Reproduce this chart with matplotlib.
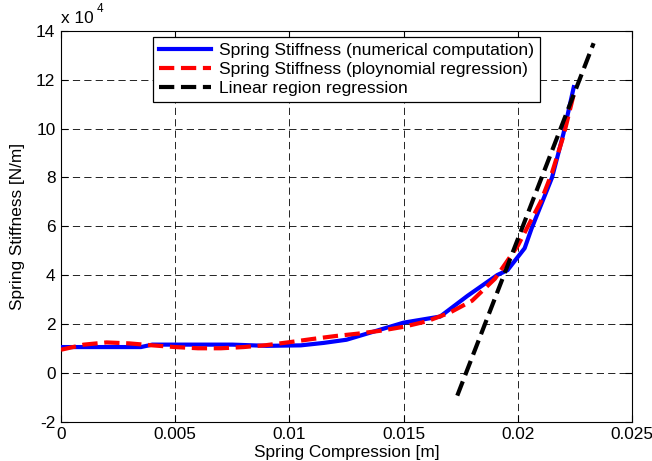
import matplotlib
matplotlib.use("Agg")
import matplotlib.pyplot as plt
from matplotlib.ticker import FuncFormatter

plt.rcParams['font.family'] = ['Liberation Sans', 'DejaVu Sans']
plt.rcParams['lines.scale_dashes'] = False

# Numerical computation (x in m, stiffness in N/m)
num_x = [0, 0.0035, 0.0040, 0.0075, 0.0090, 0.0105, 0.0115, 0.0125, 0.0150,
         0.0166, 0.0178, 0.0191, 0.01955, 0.0203, 0.0206, 0.0215, 0.0220, 0.02245]
num_y = [1.05e4, 1.05e4, 1.15e4, 1.15e4, 1.10e4, 1.12e4, 1.22e4, 1.35e4, 2.05e4,
         2.30e4, 3.15e4, 4.00e4, 4.20e4, 5.10e4, 5.90e4, 8.00e4, 9.80e4, 11.70e4]

# Polynomial regression
poly_x = [0, 0.001, 0.002, 0.003, 0.004, 0.005, 0.006, 0.007, 0.008, 0.009,
          0.010, 0.011, 0.012, 0.013, 0.014, 0.015, 0.016, 0.017, 0.018, 0.019,
          0.020, 0.021, 0.0215, 0.022, 0.0225]
poly_y = [0.94e4, 1.15e4, 1.24e4, 1.20e4, 1.12e4, 1.05e4, 1.00e4, 1.00e4, 1.05e4, 1.13e4,
          1.25e4, 1.38e4, 1.50e4, 1.60e4, 1.72e4, 1.88e4, 2.10e4, 2.45e4, 2.95e4, 3.85e4,
          5.20e4, 7.00e4, 8.20e4, 9.70e4, 11.60e4]

# Linear region regression
lin_x = [0.01735, 0.02332]
lin_y = [-0.94e4, 13.5e4]

x_ticks = [0, 0.005, 0.01, 0.015, 0.02, 0.025]
x_tick_labels = ['0', '0.005', '0.01', '0.015', '0.02', '0.025']
y_ticks = [-2e4, 0, 2e4, 4e4, 6e4, 8e4, 10e4, 12e4, 14e4]

fig = plt.figure(figsize=(6.52, 4.61), dpi=100)
ax = fig.add_axes([61/652, 1 - 421.5/461, 571/652, 390.5/461])

ax.plot(num_x, num_y, color='#0000ff', lw=3, solid_joinstyle='miter',
        label='Spring Stiffness (numerical computation)', zorder=3)
ax.plot(poly_x, poly_y, color='#ff0000', lw=3, linestyle=(0, (11, 4.8)),
        label='Spring Stiffness (ploynomial regression)', zorder=4)
ax.plot(lin_x, lin_y, color='black', lw=3, linestyle=(0, (11, 4.8)),
        label='Linear region regression', zorder=5)

ax.set_xlim(0, 0.025)
ax.set_ylim(-2e4, 14e4)
ax.set_xticks(x_ticks)
ax.set_xticklabels(x_tick_labels)
ax.set_yticks(y_ticks)
ax.yaxis.set_major_formatter(FuncFormatter(lambda v, p: '%g' % (v / 1e4)))

ax.grid(True, color='black', lw=0.6, linestyle=(0, (5.2, 3.0)))
ax.tick_params(direction='in', length=5, width=0.8, top=True, right=True,
               labelsize=12.4, colors='black', pad=4)
for s in ax.spines.values():
    s.set_linewidth(0.8)
    s.set_color('black')

ax.set_xlabel('Spring Compression [m]', fontsize=12.4, labelpad=2)
ax.set_ylabel('Spring Stiffness [N/m]', fontsize=12.4, labelpad=8)

ax.text(0.0, 1.012, 'x 10', transform=ax.transAxes, fontsize=12.4, ha='left', va='bottom')
ax.text(0.063, 1.04, '4', transform=ax.transAxes, fontsize=8.5, ha='left', va='bottom')

leg = ax.legend(loc='upper center', bbox_to_anchor=(0.5, 0.985), fontsize=12.6,
                fancybox=False, framealpha=1, edgecolor='black',
                handlelength=3.0, borderpad=0.35, labelspacing=0.2,
                handletextpad=0.45, borderaxespad=0)
leg.get_frame().set_linewidth(0.9)

fig.savefig('out.png', dpi=100, facecolor='white')
